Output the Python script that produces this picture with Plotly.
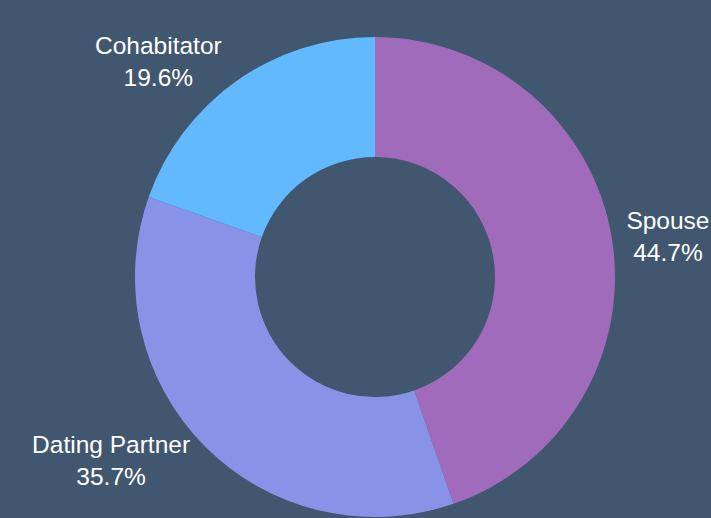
import plotly.graph_objects as go

# relationship of victim to offender
labels = ["Spouse", "Dating Partner", "Cohabitator"]
shares = [44.7, 35.7, 19.6]
colors = ["#a06bba", "#8893e7", "#63b9fd"]

bg = "#41576f"

fig = go.Figure(
    go.Pie(
        labels=labels,
        values=shares,
        hole=0.5,
        sort=False,
        direction="clockwise",
        rotation=0,
        automargin=False,
        marker=dict(colors=colors, line=dict(width=0)),
        textinfo="label+percent",
        textposition="outside",
        outsidetextfont=dict(color="white", size=24.5, family="Liberation Sans, Arial, sans-serif"),
        showlegend=False,
    )
)

fig.update_layout(
    width=711,
    height=518,
    margin=dict(l=135, r=96, t=36, b=0, autoexpand=False),
    paper_bgcolor=bg,
    plot_bgcolor=bg,
    font=dict(family="Liberation Sans, Arial, sans-serif", color="white"),
)

# drop the page's default body margin so the chart fills the window
fig.write_html(
    "out.html",
    config={"displayModeBar": False},
    post_script="document.body.style.margin='0';document.body.style.background='%s';" % bg,
)
